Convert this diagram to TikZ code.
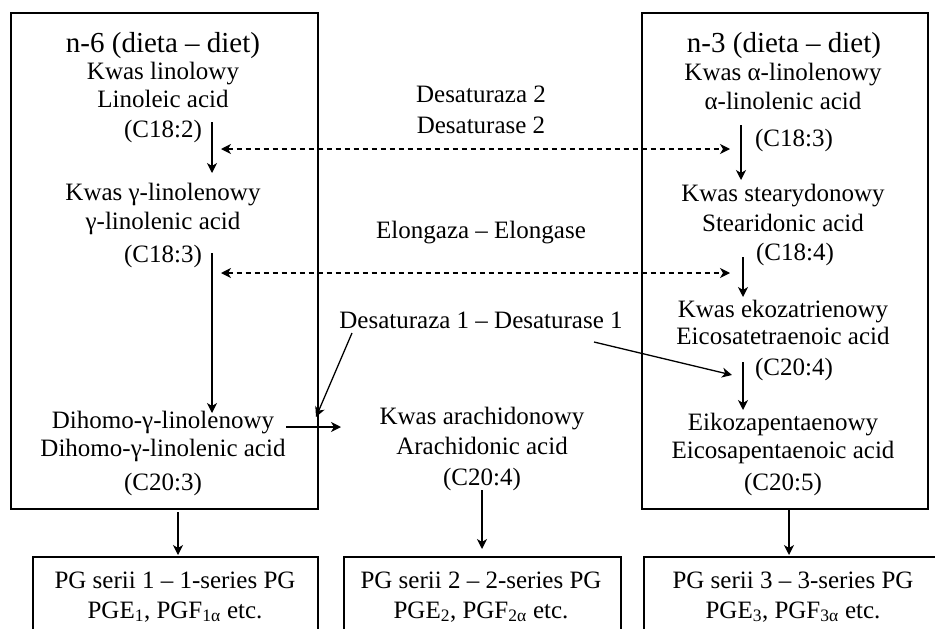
\documentclass[tikz,border=0pt]{standalone}
\usepackage{fontspec}
\setmainfont{Liberation Serif}
\usetikzlibrary{arrows.meta}
\begin{document}
\begin{tikzpicture}[x=1pt,y=-1pt,
  txt/.style={anchor=base,inner sep=0pt,font=\fontsize{25}{28}\selectfont},
  ttl/.style={anchor=base,inner sep=0pt,font=\fontsize{29}{32}\selectfont},
  frame/.style={draw,line width=1.5pt,inner sep=0pt,anchor=north west},
  flow/.style={line width=1.3pt,-{Stealth[length=10pt,width=10pt,inset=3pt]}},
  twoway/.style={line width=1.2pt,dash pattern=on 5pt off 4pt,
    {Stealth[length=10pt,width=10pt,inset=3pt]}-{Stealth[length=10pt,width=10pt,inset=3pt]}}]
\useasboundingbox (0,0) rectangle (935,629);
\clip (0,0) rectangle (935,629);

% column frames
\node[frame,minimum width=307pt,minimum height=496pt] (colL) at (10,12) {};
\node[frame,minimum width=286pt,minimum height=496pt] (colR) at (641,12) {};
% prostaglandin boxes (run past the lower edge)
\node[frame,minimum width=285pt,minimum height=100pt] (pg1) at (32,556) {};
\node[frame,minimum width=277pt,minimum height=100pt] (pg2) at (343,556) {};
\node[frame,minimum width=310pt,minimum height=100pt] (pg3) at (643,556) {};

% n-6 column
\node[ttl] (t6) at (163,52) {n-6 (dieta – diet)};
\node[txt] (la1) at (163,79) {Kwas linolowy};
\node[txt] (la2) at (163,107) {Linoleic acid};
\node[txt] (la3) at (163,137) {(C18:2)};
\node[txt] (gl1) at (163,200) {Kwas γ-linolenowy};
\node[txt] (gl2) at (163,229) {γ-linolenic acid};
\node[txt] (gl3) at (163,262) {(C18:3)};
\node[txt] (dh1) at (163,428) {Dihomo-γ-linolenowy};
\node[txt] (dh2) at (163,456) {Dihomo-γ-linolenic acid};
\node[txt] (dh3) at (163,490) {(C20:3)};

% n-3 column
\node[ttl] (t3) at (784,52) {n-3 (dieta – diet)};
\node[txt] (al1) at (783,80) {Kwas α-linolenowy};
\node[txt] (al2) at (783,109) {α-linolenic acid};
\node[txt] (al3) at (794,146) {(C18:3)};
\node[txt] (sd1) at (783,201) {Kwas stearydonowy};
\node[txt] (sd2) at (783,231) {Stearidonic acid};
\node[txt] (sd3) at (795,260) {(C18:4)};
\node[txt] (et1) at (783,317) {Kwas ekozatrienowy};
\node[txt] (et2) at (783,344) {Eicosatetraenoic acid};
\node[txt] (et3) at (794,375) {(C20:4)};
\node[txt] (ep1) at (783,430) {Eikozapentaenowy};
\node[txt] (ep2) at (783,458) {Eicosapentaenoic acid};
\node[txt] (ep3) at (783,490) {(C20:5)};

% enzymes
\node[txt] (des2a) at (481,102) {Desaturaza 2};
\node[txt] (des2b) at (481,133) {Desaturase 2};
\node[txt] (elo) at (481,238) {Elongaza – Elongase};
\node[txt] (des1) at (481,328) {Desaturaza 1 – Desaturase 1};

% arachidonic acid
\node[txt] (aa1) at (482,424) {Kwas arachidonowy};
\node[txt] (aa2) at (482,454) {Arachidonic acid};
\node[txt] (aa3) at (482,485) {(C20:4)};

% prostaglandin series
\node[txt] (p1a) at (175,588) {PG serii 1 – 1-series PG};
\node[txt] (p1b) at (175,618) {PGE\textsubscript{1}, PGF\textsubscript{1α} etc.};
\node[txt] (p2a) at (481,588) {PG serii 2 – 2-series PG};
\node[txt] (p2b) at (481,618) {PGE\textsubscript{2}, PGF\textsubscript{2α} etc.};
\node[txt] (p3a) at (793,588) {PG serii 3 – 3-series PG};
\node[txt] (p3b) at (793,618) {PGE\textsubscript{3}, PGF\textsubscript{3α} etc.};

% arrow end points
\coordinate (a1s) at (212,122); \coordinate (a1e) at (212,173);
\coordinate (a2s) at (212,253); \coordinate (a2e) at (212,413);
\coordinate (a3s) at (741,125); \coordinate (a3e) at (741,180);
\coordinate (a4s) at (743,257); \coordinate (a4e) at (743,297);
\coordinate (a5s) at (743,362); \coordinate (a5e) at (743,410);
\coordinate (d1l) at (221,149); \coordinate (d1r) at (730,149);
\coordinate (d2l) at (221,273); \coordinate (d2r) at (730,273);
\coordinate (hs) at (286,427); \coordinate (he) at (341,427);
\coordinate (e1s) at (352,333); \coordinate (e1e) at (316,417);
\coordinate (e2s) at (594,342); \coordinate (e2e) at (732,375);
\coordinate (ms) at (482,490); \coordinate (me) at (482,549);
\coordinate (b1s) at (178,512); \coordinate (b1e) at (178,555);
\coordinate (b3s) at (789,510); \coordinate (b3e) at (789,555);

% conversions
\draw[flow] (a1s) -- (a1e);
\draw[flow] (a2s) -- (a2e);
\draw[flow] (a3s) -- (a3e);
\draw[flow] (a4s) -- (a4e);
\draw[flow] (a5s) -- (a5e);
\draw[twoway] (d1l) -- (d1r);
\draw[twoway] (d2l) -- (d2r);
\draw[flow] (hs) -- (he);
\draw[flow] (e1s) -- (e1e);
\draw[flow] (e2s) -- (e2e);
\draw[flow] (ms) -- (me);
\draw[flow] (b1s) -- (b1e);
\draw[flow] (b3s) -- (b3e);
\end{tikzpicture}
\end{document}
